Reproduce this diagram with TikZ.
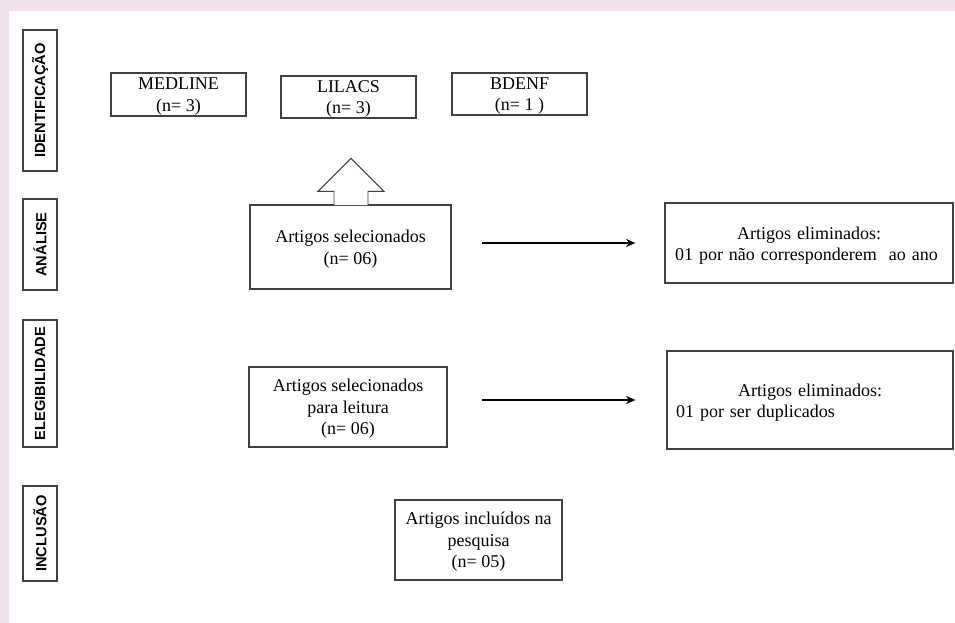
\documentclass[tikz,border=0pt]{standalone}
\usepackage{fontspec}
\setmainfont{Liberation Serif}
\newfontfamily\stagefont{Liberation Sans}
\usetikzlibrary{arrows.meta}
\definecolor{pinkbg}{HTML}{F3E1EC}
\definecolor{boxline}{HTML}{404040}

\begin{document}
\begin{tikzpicture}[x=0.75pt,y=-0.75pt,>={Stealth[length=7pt,width=6pt]},font=\fontsize{13.5}{16.2}\selectfont,
  box/.style={draw=boxline,line width=0.9pt,align=center,inner sep=0pt,text depth=0pt},
  elim/.style={draw=boxline,line width=0.9pt,text width=201pt,inner ysep=0pt,text depth=15pt},
  stage/.style={draw=boxline,line width=0.9pt,rotate=90,inner sep=0pt,minimum height=25.5pt,
    font=\stagefont\fontsize{11}{13}\selectfont\bfseries},
  flow/.style={->,line width=1.5pt}]
\useasboundingbox (0,0) rectangle (955,623);
\fill[pinkbg] (0,0) rectangle (955,11);
\fill[pinkbg] (0,0) rectangle (9,623);
\node[stage,minimum width=105.75pt] (ident) at (40,100.5) {IDENTIFICAÇÃO};
\node[stage,minimum width=68.25pt] (anal) at (40,244.5) {ANÁLISE};
\node[stage,minimum width=95.25pt] (eleg) at (40,383.5) {ELEGIBILIDADE};
\node[stage,minimum width=71.25pt] (inclu) at (40,533.5) {INCLUSÃO};
\node[box,minimum width=101.25pt,minimum height=32.25pt] (medline) at (178.5,94.5) {MEDLINE\\(n= 3)};
\node[box,minimum width=101.25pt,minimum height=31.5pt] (lilacs) at (348.5,97) {LILACS\\(n= 3)};
\node[box,minimum width=101.25pt,minimum height=31.5pt] (bdenf) at (519.5,94) {BDENF\\(n= 1 )};
\node[box,minimum width=150.75pt,minimum height=63pt] (sel1) at (350.5,247) {Artigos selecionados\\(n= 06)};
\node[elim,minimum height=60pt,inner xsep=7.5pt] (elim1) at (809,243)
  {{\centering Artigos eliminados:\par}\noindent 01 por não corresponderem\ \ ao ano};
\node[box,minimum width=148.5pt,minimum height=60pt] (sel2) at (348,407) {Artigos selecionados\\para leitura\\(n= 06)};
\node[elim,minimum height=73.5pt,inner xsep=6.75pt] (elim2) at (810,400)
  {{\centering Artigos eliminados:\par}\noindent 01 por ser duplicados};
\node[box,minimum width=125.25pt,minimum height=60pt] (incl) at (478.5,540) {Artigos incluídos na\\pesquisa\\(n= 05)};
\draw[boxline,line width=0.7pt,fill=white] (sel1.north) ++(-16.5,0.8) -- ++(0,-13.8) -- ++(-16,0) -- ++(33,-33)
  -- ++(33,33) -- ++(-16,0) -- ++(0,13.8);
\draw[flow,shorten <=22.5pt,shorten >=21.75pt] (sel1.east |- elim1.west) -- (elim1.west);
\draw[flow,shorten <=25.5pt,shorten >=23.25pt] (sel2.east |- elim2.west) -- (elim2.west);
\end{tikzpicture}
\end{document}
